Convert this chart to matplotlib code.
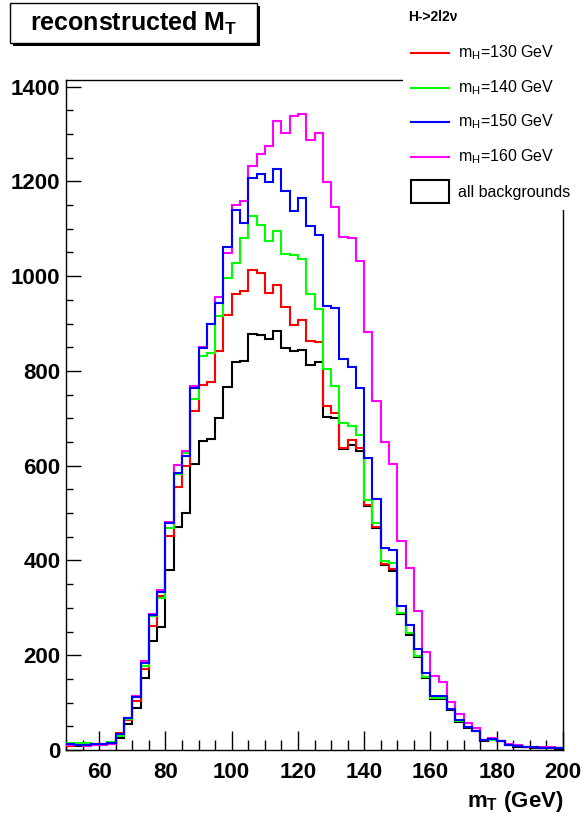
import numpy as np
import matplotlib
matplotlib.use("Agg")
import matplotlib.pyplot as plt
from matplotlib.patches import Rectangle
from matplotlib.lines import Line2D
from matplotlib.ticker import MultipleLocator

plt.rcParams['font.family'] = ['Liberation Sans', 'DejaVu Sans']
plt.rcParams['mathtext.fontset'] = 'custom'
plt.rcParams['mathtext.rm'] = 'Liberation Sans'
plt.rcParams['mathtext.it'] = 'Liberation Sans:italic'
plt.rcParams['mathtext.bf'] = 'Liberation Sans:bold'

# ---------------- data ----------------
bin_low, bin_high, n_bins = 50.0, 200.0, 60

mh130 = [8, 10, 10, 12, 12, 14, 35, 64, 103, 170, 262, 325, 452, 556, 600, 716,
         770, 776, 843, 917, 962, 968, 1012, 1006, 964, 982, 935, 896, 908, 864,
         861, 725, 711, 638, 655, 638, 518, 470, 393, 381, 289, 246, 199, 155,
         110, 110, 87, 62, 48, 41, 21, 22, 19, 11, 8, 7, 6, 4, 5, 4]
mh140 = [14, 15, 15, 10, 10, 17, 29, 65, 115, 178, 283, 321, 469, 583, 626, 741,
         832, 838, 915, 997, 1028, 1080, 1128, 1107, 1075, 1096, 1047, 1044, 1037, 962,
         930, 804, 769, 691, 683, 665, 528, 479, 398, 394, 289, 246, 199, 155,
         110, 110, 87, 62, 48, 41, 21, 22, 19, 11, 8, 7, 6, 4, 5, 4]
mh150 = [12, 11, 11, 12, 13, 14, 33, 67, 112, 184, 285, 333, 480, 584, 621, 763,
         848, 898, 943, 1061, 1140, 1112, 1207, 1215, 1198, 1227, 1180, 1137, 1164, 1105,
         1087, 938, 932, 825, 809, 765, 616, 530, 427, 422, 303, 264, 213, 162,
         114, 113, 87, 64, 49, 41, 21, 23, 19, 11, 8, 7, 6, 4, 5, 4]
mh160 = [10, 10, 9, 10, 11, 13, 33, 67, 113, 188, 288, 338, 482, 602, 632, 769,
         850, 898, 957, 1049, 1151, 1159, 1232, 1258, 1274, 1328, 1303, 1337, 1343, 1287,
         1303, 1198, 1145, 1082, 1080, 1031, 882, 737, 650, 603, 441, 384, 293, 206,
         157, 143, 102, 76, 58, 46, 21, 26, 20, 12, 11, 7, 7, 6, 7, 5]
backgrounds = [8, 8, 9, 10, 10, 12, 26, 54, 89, 153, 229, 260, 380, 471, 500, 603,
               652, 657, 701, 766, 819, 822, 878, 875, 867, 885, 848, 842, 845, 812,
               819, 702, 700, 636, 644, 632, 515, 468, 390, 378, 286, 243, 196, 152,
               108, 108, 85, 60, 47, 40, 20, 21, 18, 10, 7, 6, 5, 4, 4, 3]

signal_series = [mh130, mh140, mh160, mh150]
signal_colors = ['#ff0000', '#00ff00', '#ff00ff', '#0000ff']
legend_labels = [r'm$_\mathrm{H}$=130 GeV', r'm$_\mathrm{H}$=140 GeV',
                 r'm$_\mathrm{H}$=150 GeV', r'm$_\mathrm{H}$=160 GeV', 'all backgrounds']
legend_colors = ['#ff0000', '#00ff00', '#0000ff', '#ff00ff']
x_ticks = [60, 80, 100, 120, 140, 160, 180, 200]
y_ticks = [0, 200, 400, 600, 800, 1000, 1200, 1400]

# ---------------- figure ----------------
W, H = 583, 818
fig = plt.figure(figsize=(W / 100, H / 100), dpi=100)

def fx(x):
    return x / W

def fy(y):
    return 1 - y / H

ax = fig.add_axes([fx(66), fy(750), fx(563) - fx(66), fy(80) - fy(750)])
edges = np.linspace(bin_low, bin_high, n_bins + 1)

ax.stairs(backgrounds, edges, baseline=None, color='black', lw=1.5, zorder=2)
for vals, col in zip(signal_series, signal_colors):
    ax.stairs(vals, edges, baseline=None, color=col, lw=1.5, zorder=3)

ax.set_xlim(bin_low, bin_high)
ax.set_ylim(0, 1414)
ax.set_xticks(x_ticks)
ax.set_yticks(y_ticks)
ax.xaxis.set_minor_locator(MultipleLocator(5))
ax.yaxis.set_minor_locator(MultipleLocator(50))
ax.tick_params(axis='x', which='major', direction='in', length=14, width=1,
               labelsize=16, pad=9)
ax.tick_params(axis='x', which='minor', direction='in', length=7, width=1)
ax.tick_params(axis='y', which='major', direction='in', length=10.5, width=1,
               labelsize=16, pad=4)
ax.tick_params(axis='y', which='minor', direction='in', length=5, width=1)
for lab in ax.get_xticklabels() + ax.get_yticklabels():
    lab.set_fontweight('bold')
for sp in ax.spines.values():
    sp.set_linewidth(1)

fig.text(fx(563), fy(802), r'm$_\mathbf{T}$ (GeV)', ha='right', va='center',
         fontsize=16, fontweight='bold')

# ---------------- title box ----------------
fig.add_artist(Rectangle((fx(13), fy(46)), fx(257) - fx(10), fy(3) - fy(43),
                         transform=fig.transFigure, facecolor='black',
                         edgecolor='black', lw=0, zorder=10))
fig.add_artist(Rectangle((fx(10), fy(43)), fx(257) - fx(10), fy(3) - fy(43),
                         transform=fig.transFigure, facecolor='white',
                         edgecolor='black', lw=1, zorder=11))
fig.text(fx(134), fy(23), r'reconstructed M$_\mathbf{T}$', ha='center', va='center',
         fontsize=18, fontweight='bold', zorder=12)

# ---------------- legend ----------------
fig.add_artist(Rectangle((fx(403), fy(210)), fx(583) - fx(403), fy(0) - fy(210),
                         transform=fig.transFigure, facecolor='white',
                         edgecolor='none', zorder=10))
fig.text(fx(408), fy(17), 'H->2l2ν', ha='left', va='center', fontsize=10,
         fontweight='bold', zorder=12)
entry_y = [53, 88, 122, 157]
for yy, col, lab in zip(entry_y, legend_colors, legend_labels[:4]):
    fig.add_artist(Line2D([fx(411), fx(449)], [fy(yy), fy(yy)],
                          transform=fig.transFigure, color=col, lw=1.5, zorder=12))
    fig.text(fx(458), fy(yy), lab, ha='left', va='center', fontsize=11.5, zorder=12)
fig.add_artist(Rectangle((fx(411), fy(203)), fx(449) - fx(411), fy(180) - fy(203),
                         transform=fig.transFigure, facecolor='white',
                         edgecolor='black', lw=1.5, zorder=12))
fig.text(fx(458), fy(192), legend_labels[4], ha='left', va='center', fontsize=11.5,
         zorder=12)

fig.savefig('out.png', dpi=100)
